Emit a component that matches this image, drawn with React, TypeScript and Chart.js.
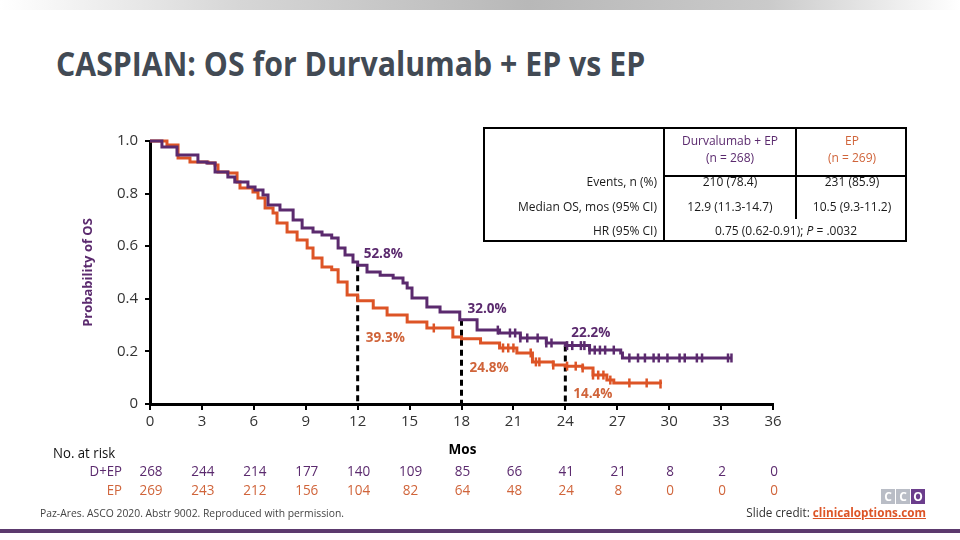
import React, { useEffect, useRef } from "react";
import { Chart, registerables } from "chart.js";

Chart.register(...registerables);

// ---------- data ----------
const durvaMonths = [0, 0.69, 1.56, 2.14, 2.77, 3.29, 3.76, 4.5, 4.9, 5.66, 6.07, 6.53, 6.82, 7.51, 8.27, 8.79, 9.42, 9.94, 10.5, 10.87, 11.27, 11.73, 12.0, 12.54, 13.3, 14.05, 14.62, 14.86, 15.14, 16.0, 16.76, 17.9, 18.9, 20.2, 21.4, 22.9, 24.0, 25.4, 27.2, 27.3, 33.6];
const durvaSurvival = [1.0, 0.977, 0.947, 0.947, 0.92, 0.916, 0.882, 0.863, 0.844, 0.825, 0.814, 0.795, 0.757, 0.738, 0.7, 0.669, 0.654, 0.643, 0.631, 0.593, 0.567, 0.54, 0.528, 0.502, 0.49, 0.479, 0.46, 0.441, 0.403, 0.369, 0.35, 0.32, 0.281, 0.27, 0.251, 0.232, 0.222, 0.205, 0.194, 0.175, 0.175];
const epMonths = [0, 0.98, 1.62, 2.31, 3.35, 3.76, 3.93, 4.5, 5.03, 5.2, 5.95, 6.24, 6.65, 7.11, 7.34, 7.92, 8.5, 9.08, 9.42, 9.94, 10.5, 10.87, 11.39, 12.0, 12.9, 13.7, 14.86, 16.0, 17.5, 18.0, 19.1, 20.2, 21.2, 22.1, 23.3, 24.0, 25.0, 25.6, 26.4, 26.8, 29.5];
const epSurvival = [1.0, 0.985, 0.935, 0.92, 0.916, 0.909, 0.882, 0.878, 0.844, 0.821, 0.806, 0.783, 0.745, 0.726, 0.688, 0.654, 0.624, 0.593, 0.555, 0.521, 0.51, 0.464, 0.414, 0.393, 0.365, 0.338, 0.312, 0.289, 0.255, 0.248, 0.232, 0.213, 0.194, 0.16, 0.148, 0.144, 0.137, 0.11, 0.091, 0.08, 0.076];
const durvaCensorMonths = [20.1, 20.8, 21.1, 21.4, 21.8, 22.4, 22.9, 23.2, 24.1, 24.4, 24.9, 25.1, 25.4, 25.7, 26.0, 26.3, 26.8, 27.7, 28.2, 28.6, 29.1, 29.4, 29.9, 30.6, 30.9, 31.6, 31.9, 33.4, 33.6];
const epCensorMonths = [16.4, 20.4, 20.7, 21.0, 22.0, 22.3, 22.5, 23.3, 24.1, 24.6, 25.0, 25.6, 25.9, 26.2, 26.6, 27.7, 28.7, 29.5];

const landmarkMonths = [12, 18, 24];
const durvaLandmarkPct = [52.8, 32.0, 22.2];
const epLandmarkPct = [39.3, 24.8, 14.4];

const xTickValues = [0, 3, 6, 9, 12, 15, 18, 21, 24, 27, 30, 33, 36];
const yTickValues = [0, 0.2, 0.4, 0.6, 0.8, 1.0];

const atRiskDurva = [268, 244, 214, 177, 140, 109, 85, 66, 41, 21, 8, 2, 0];
const atRiskEp = [269, 243, 212, 156, 104, 82, 64, 48, 24, 8, 0, 0, 0];

const tableHeaders = ["Durvalumab + EP", "(n = 268)", "EP", "(n = 269)"];
const tableRowLabels = ["Events, n (%)", "Median OS, mos (95% CI)", "HR (95% CI)"];
const durvaCol = ["210 (78.4)", "12.9 (11.3-14.7)"];
const epCol = ["231 (85.9)", "10.5 (9.3-11.2)"];

// ---------- style ----------
const PURPLE = "#5b2a6e";
const ORANGE = "#dd5426";
const ORANGE_TEXT = "#d0643a";
const FONT = "'Open Sans', 'Noto Sans', sans-serif";

// label offsets (pixels) relative to landmark point
const durvaLabelDy = [-11, -11, -13];
const epLabelDy = [37, 29, 28];

function stepAt(months: number[], surv: number[], t: number) {
  let v = surv[0];
  for (let i = 0; i < months.length; i++) if (months[i] <= t) v = surv[i];
  return v;
}

function condensedText(ctx: CanvasRenderingContext2D, text: string, x: number, y: number, sx: number) {
  ctx.save();
  ctx.translate(x, y);
  ctx.scale(sx, 1);
  ctx.fillText(text, 0, 0);
  ctx.restore();
}

const overlayPlugin = {
  id: "overlay",
  beforeDatasetsDraw(chart: any) {
    const { ctx, scales } = chart;
    const x = scales.x, y = scales.y;
    ctx.save();
    ctx.setLineDash([6, 4]);
    ctx.lineWidth = 3;
    ctx.strokeStyle = "#000";
    landmarkMonths.forEach((m, i) => {
      const px = x.getPixelForValue(m);
      ctx.beginPath();
      ctx.moveTo(px, y.getPixelForValue(durvaLandmarkPct[i] / 100));
      ctx.lineTo(px, y.getPixelForValue(0));
      ctx.stroke();
    });
    ctx.restore();
  },
  afterDraw(chart: any) {
    const { ctx, scales, chartArea } = chart;
    const x = scales.x, y = scales.y;
    ctx.save();
    // landmark labels
    ctx.font = `bold 15px ${FONT}`;
    ctx.textBaseline = "middle";
    ctx.textAlign = "left";
    landmarkMonths.forEach((m, i) => {
      const px = x.getPixelForValue(m);
      ctx.fillStyle = PURPLE;
      condensedText(ctx, durvaLandmarkPct[i].toFixed(1) + "%", px + 6, y.getPixelForValue(durvaLandmarkPct[i] / 100) + durvaLabelDy[i], 0.9);
      ctx.fillStyle = ORANGE_TEXT;
      condensedText(ctx, epLandmarkPct[i].toFixed(1) + "%", px + 8, y.getPixelForValue(epLandmarkPct[i] / 100) + epLabelDy[i], 0.9);
    });
    // axis titles
    ctx.fillStyle = "#000";
    ctx.textAlign = "center";
    ctx.font = `bold 15px ${FONT}`;
    condensedText(ctx, "Mos", (chartArea.left + chartArea.right) / 2 + 1, 450, 0.9);
    ctx.save();
    ctx.translate(88, (chartArea.top + chartArea.bottom) / 2);
    ctx.rotate(-Math.PI / 2);
    ctx.fillStyle = PURPLE;
    ctx.font = `bold 13px ${FONT}`;
    ctx.textAlign = "center";
    ctx.fillText("Probability of OS", 0, 0);
    ctx.restore();
    // at-risk table
    ctx.font = `15px ${FONT}`;
    ctx.textAlign = "center";
    xTickValues.forEach((m, i) => {
      const px = x.getPixelForValue(m);
      ctx.fillStyle = PURPLE;
      condensedText(ctx, String(atRiskDurva[i]), px + 1, 472, 0.9);
      ctx.fillStyle = ORANGE_TEXT;
      condensedText(ctx, String(atRiskEp[i]), px + 1, 491, 0.9);
    });
    ctx.textAlign = "left";
    ctx.fillStyle = "#111";
    condensedText(ctx, "No. at risk", 53, 454, 0.88);
    ctx.textAlign = "right";
    ctx.fillStyle = PURPLE;
    condensedText(ctx, "D+EP", 122, 472, 0.88);
    ctx.fillStyle = ORANGE_TEXT;
    condensedText(ctx, "EP", 122, 491, 0.88);
    ctx.restore();
  },
};

function KMChart() {
  const ref = useRef<HTMLCanvasElement | null>(null);
  useEffect(() => {
    if (!ref.current) return;
    const durvaLine = durvaMonths.map((m, i) => ({ x: m, y: durvaSurvival[i] }));
    const epLine = epMonths.map((m, i) => ({ x: m, y: epSurvival[i] }));
    const durvaCens = durvaCensorMonths.map((m) => ({ x: m, y: stepAt(durvaMonths, durvaSurvival, m) }));
    const epCens = epCensorMonths.map((m) => ({ x: m, y: stepAt(epMonths, epSurvival, m) }));
    const chart = new Chart(ref.current, {
      type: "line",
      data: {
        datasets: [
          { data: durvaCens, showLine: false, pointStyle: "line", rotation: 90, pointRadius: 4.5, pointBorderWidth: 2.5, borderColor: PURPLE, backgroundColor: PURPLE, clip: false } as any,
          { data: durvaLine, stepped: "before", borderColor: PURPLE, borderWidth: 3, pointRadius: 0, clip: false, borderJoinStyle: "miter" } as any,
          { data: epCens, showLine: false, pointStyle: "line", rotation: 90, pointRadius: 4.5, pointBorderWidth: 2.5, borderColor: ORANGE, backgroundColor: ORANGE, clip: false } as any,
          { data: epLine, stepped: "before", borderColor: ORANGE, borderWidth: 3, pointRadius: 0, clip: false, borderJoinStyle: "miter" } as any,
        ],
      },
      options: {
        responsive: false,
        animation: false,
        events: [],
        layout: { padding: { left: 0, right: 187, top: 141, bottom: 0 } },
        plugins: { legend: { display: false }, tooltip: { enabled: false } },
        scales: {
          x: {
            type: "linear",
            min: 0,
            max: 36,
            afterBuildTicks: (s: any) => { s.ticks = xTickValues.map((v) => ({ value: v })); },
            afterFit: (s: any) => { s.height = 136; },
            grid: { drawOnChartArea: false, drawTicks: true, tickLength: 6, color: "#000", lineWidth: 2 },
            border: { color: "#000", width: 3 },
            ticks: { color: "#333", font: { size: 15, family: FONT }, padding: 3, maxRotation: 0, autoSkip: false },
          },
          y: {
            min: 0,
            max: 1,
            afterBuildTicks: (s: any) => { s.ticks = yTickValues.map((v) => ({ value: v })); },
            afterFit: (s: any) => { s.width = 150; },
            grid: { drawOnChartArea: false, drawTicks: true, tickLength: 5, color: "#000", lineWidth: 2 },
            border: { color: "#000", width: 3 },
            ticks: {
              color: "#333",
              font: { size: 15, family: FONT },
              padding: 7,
              callback: (v: any) => (Number(v) === 0 ? "0" : Number(v).toFixed(1)),
            },
          },
        },
      } as any,
      plugins: [overlayPlugin],
    });
    return () => chart.destroy();
  }, []);
  return <canvas ref={ref} width={960} height={540} style={{ position: "absolute", left: 0, top: 0, width: 960, height: 540 }} />;
}

const abs = (l: number, t: number, extra: React.CSSProperties = {}): React.CSSProperties => ({ position: "absolute", left: l, top: t, ...extra });

function OutcomeTable() {
  const cell = (l: number, w: number, cy: number, text: string, color = "#1a1a1a", align: "center" | "right" = "center") => (
    <div style={abs(l, cy - 9, { width: w, height: 18, lineHeight: "18px", textAlign: align, color, fontSize: 12, whiteSpace: "nowrap" })}>{text}</div>
  );
  return (
    <div style={abs(483, 127, { width: 420, height: 111, border: "2px solid #000", fontFamily: FONT })}>
      <div style={abs(178, -2, { width: 2, height: 113, background: "#000" })} />
      <div style={abs(310, -2, { width: 2, height: 92, background: "#000" })} />
      <div style={abs(178, 46, { width: 244, height: 2, background: "#000" })} />
      {cell(180, 130, 12, tableHeaders[0], PURPLE)}
      {cell(180, 130, 29, tableHeaders[1], PURPLE)}
      {cell(312, 110, 12, tableHeaders[2], ORANGE_TEXT)}
      {cell(312, 110, 29, tableHeaders[3], ORANGE_TEXT)}
      {tableRowLabels.map((r, i) => cell(0, 172, 53 + i * 24.5, r, "#1a1a1a", "right"))}
      {durvaCol.map((v, i) => cell(180, 130, 53 + i * 24.5, v))}
      {epCol.map((v, i) => cell(312, 110, 53 + i * 24.5, v))}
      <div style={abs(180, 93, { width: 242, height: 18, lineHeight: "18px", textAlign: "center", color: "#1a1a1a", fontSize: 12 })}>
        0.75 (0.62-0.91); <i>P</i> = .0032
      </div>
    </div>
  );
}

export default function App() {
  return (
    <div style={{ position: "absolute", left: 0, top: 0, width: 960, height: 540, overflow: "hidden", background: "#fff", fontFamily: FONT }}>
      <div style={abs(0, 0, { width: 960, height: 10, background: "linear-gradient(to right, #ffffff 0%, #d6d6d6 25%, #b8b8b8 55%, #cacaca 80%, #ffffff 100%)" })} />
      <div style={abs(56, 42, { fontSize: 34, fontWeight: 700, color: "#424a54", whiteSpace: "nowrap", lineHeight: "42px", transform: "scaleX(0.89)", transformOrigin: "left center" })}>
        CASPIAN: OS for Durvalumab + EP vs EP
      </div>
      <KMChart />
      <OutcomeTable />
      <div style={abs(40, 505, { fontSize: 11, color: "#444", whiteSpace: "nowrap", transform: "scaleX(0.94)", transformOrigin: "left center" })}>
        Paz-Ares. ASCO 2020. Abstr 9002. Reproduced with permission.
      </div>
      <div style={abs(881, 489, { display: "flex", gap: 1 })}>
        {["C", "C", "O"].map((c, i) => (
          <div key={i} style={{ width: 14, height: 15, background: i === 2 ? "#6b3d8c" : "#b9bdc6", color: "#fff", fontSize: 12, fontWeight: 700, lineHeight: "15px", textAlign: "center" }}>{c}</div>
        ))}
      </div>
      <div style={abs(626, 503, { width: 300, textAlign: "right", fontSize: 13, color: "#333", whiteSpace: "nowrap", transform: "scaleX(0.9)", transformOrigin: "right center" })}>
        Slide credit: <span style={{ color: ORANGE, fontWeight: 700, textDecoration: "underline" }}>clinicaloptions.com</span>
      </div>
      <div style={abs(0, 529, { width: 960, height: 4, background: "#5c3a6e" })} />
    </div>
  );
}
